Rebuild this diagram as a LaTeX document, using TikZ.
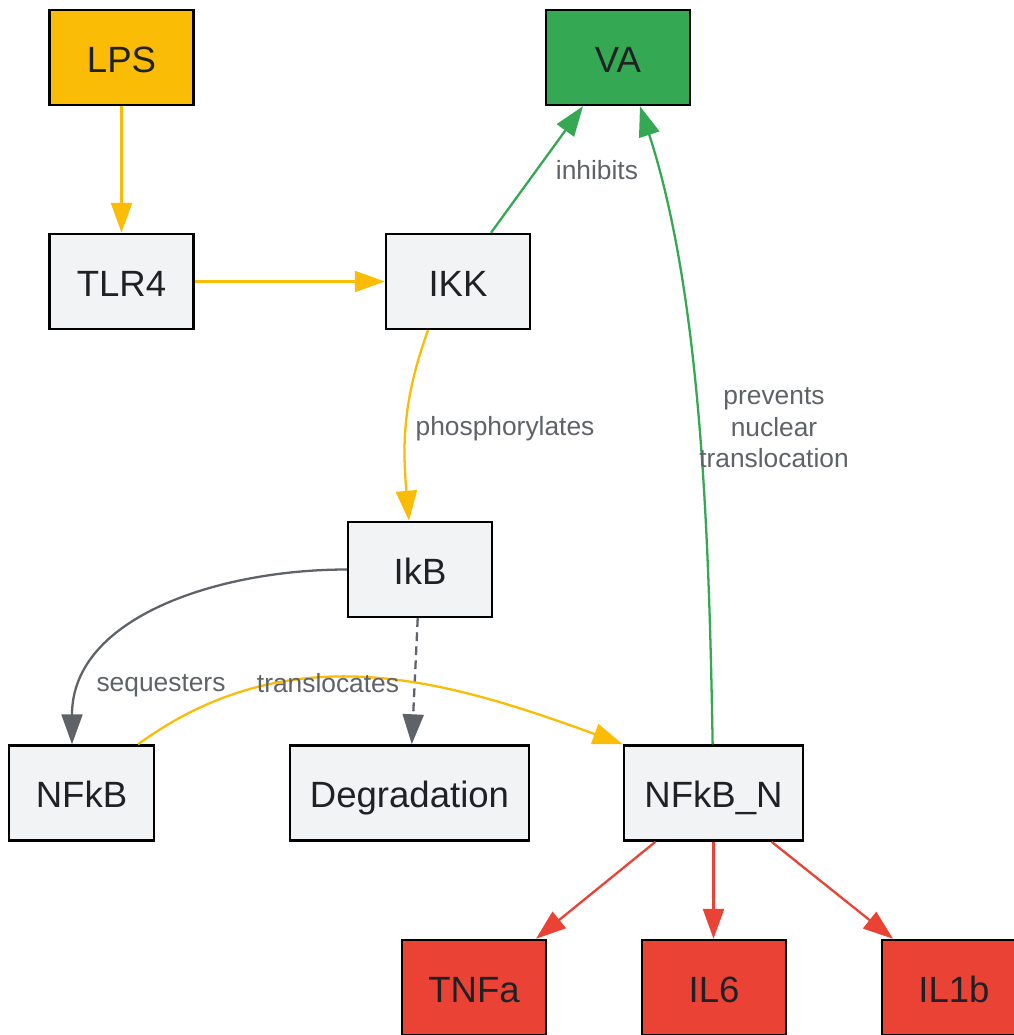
\documentclass[tikz,border=0pt]{standalone}
\usepackage{fontspec}
\setmainfont{Liberation Sans}
\usepackage{xcolor}
\usepackage{tikz}
\usetikzlibrary{arrows.meta,calc}

\definecolor{lpsyellow}{HTML}{FBBC05}
\definecolor{vagreen}{HTML}{34A853}
\definecolor{cytred}{HTML}{EA4335}
\definecolor{boxgray}{HTML}{F1F3F4}
\definecolor{linkgray}{HTML}{5F6368}
\definecolor{textdark}{HTML}{202124}

\begin{document}
\begin{tikzpicture}[x=0.02cm,y=0.02cm,line width=1.3pt]
        \tikzstyle{species} = [draw=black,line width=1.4pt,fill=boxgray,text=textdark,minimum width=2.88cm,minimum height=1.9cm,inner sep=0pt,text height=16.6pt,text depth=0pt,font=\fontsize{20.8}{25}\selectfont]
        \tikzstyle{lbl} = [text=linkgray,font=\fontsize{15}{17.9}\selectfont,align=center,inner sep=0pt]
        \tikzstyle{arr} = [-{Triangle[length=0.6cm,width=0.42cm]}]
        %
        \useasboundingbox[fill=white] (0,0) rectangle (1014,-1035);
        % First row.
        \node[species,fill=lpsyellow] (LPS) at (121.5,-57.5) {LPS};
        \node[species,fill=vagreen] (VA) at (618,-57.5) {VA};
        % Second row.
        \node[species] (TLR4) at (121.5,-281.5) {TLR4};
        \node[species] (IKK) at (458,-281.5) {IKK};
        % Third row.
        \node[species] (IkB) at (420,-569.5) {IkB};
        % Fourth row.
        \node[species,minimum width=2.9cm] (NFkB) at (81.5,-793) {NFkB};
        \node[species,minimum width=4.78cm] (Degradation) at (409.5,-793) {Degradation};
        \node[species,minimum width=3.58cm] (NFkB_N) at (713.5,-793) {NFkB\_N};
        % Fifth row.
        \node[species,fill=cytred] (TNFa) at (474,-987.5) {TNFa};
        \node[species,fill=cytred] (IL6) at (714,-987.5) {IL6};
        \node[species,fill=cytred] (IL1b) at (954,-987.5) {IL1b};
        %
        % Draw lines.
        \draw[arr,lpsyellow] (LPS) -- (TLR4);
        \draw[arr,lpsyellow] (TLR4) -- (IKK);
        \draw[arr,vagreen] ($(IKK.north)+(33,0)$) -- ($(VA.south)+(-35,0)$);
        \draw[arr,lpsyellow] ($(IKK.south)+(-30,0)$) to[out=-110,in=95] ($(IkB.north)+(-11,0)$);
        \draw[arr,linkgray] (IkB.west) to[out=180,in=90] ($(NFkB.north)+(-9.5,0)$);
        \draw[arr,linkgray,dash pattern=on 5pt off 3pt] (IkB) -- (Degradation);
        \draw[arr,lpsyellow] ($(NFkB.north)+(56.5,0)$) to[out=36,in=160] (NFkB_N.north west);
        \draw[arr,vagreen] (NFkB_N) to[out=91,in=-72,looseness=0.8] ($(VA.south)+(22,0)$);
        \draw[arr,cytred] ($(NFkB_N.south)+(-58,0)$) -- ($(TNFa.north)+(62,0)$);
        \draw[arr,cytred] (NFkB_N) -- (NFkB_N.south |- IL6.north);
        \draw[arr,cytred] ($(NFkB_N.south)+(58,0)$) -- ($(IL1b.north)+(-61,0)$);
        % Edge labels.
        \node[lbl] (inhibitsLbl) at (597,-170) {inhibits};
        \node[lbl] (phosLbl) at (505,-429) {phosphorylates};
        \node[lbl] (seqLbl) at (161,-686) {sequesters};
        \node[lbl] (transLbl) at (328,-683) {translocates};
        \node[lbl] (preventsLbl) at (774,-428) {prevents\\nuclear\\translocation};
        %
\end{tikzpicture}
\end{document}
